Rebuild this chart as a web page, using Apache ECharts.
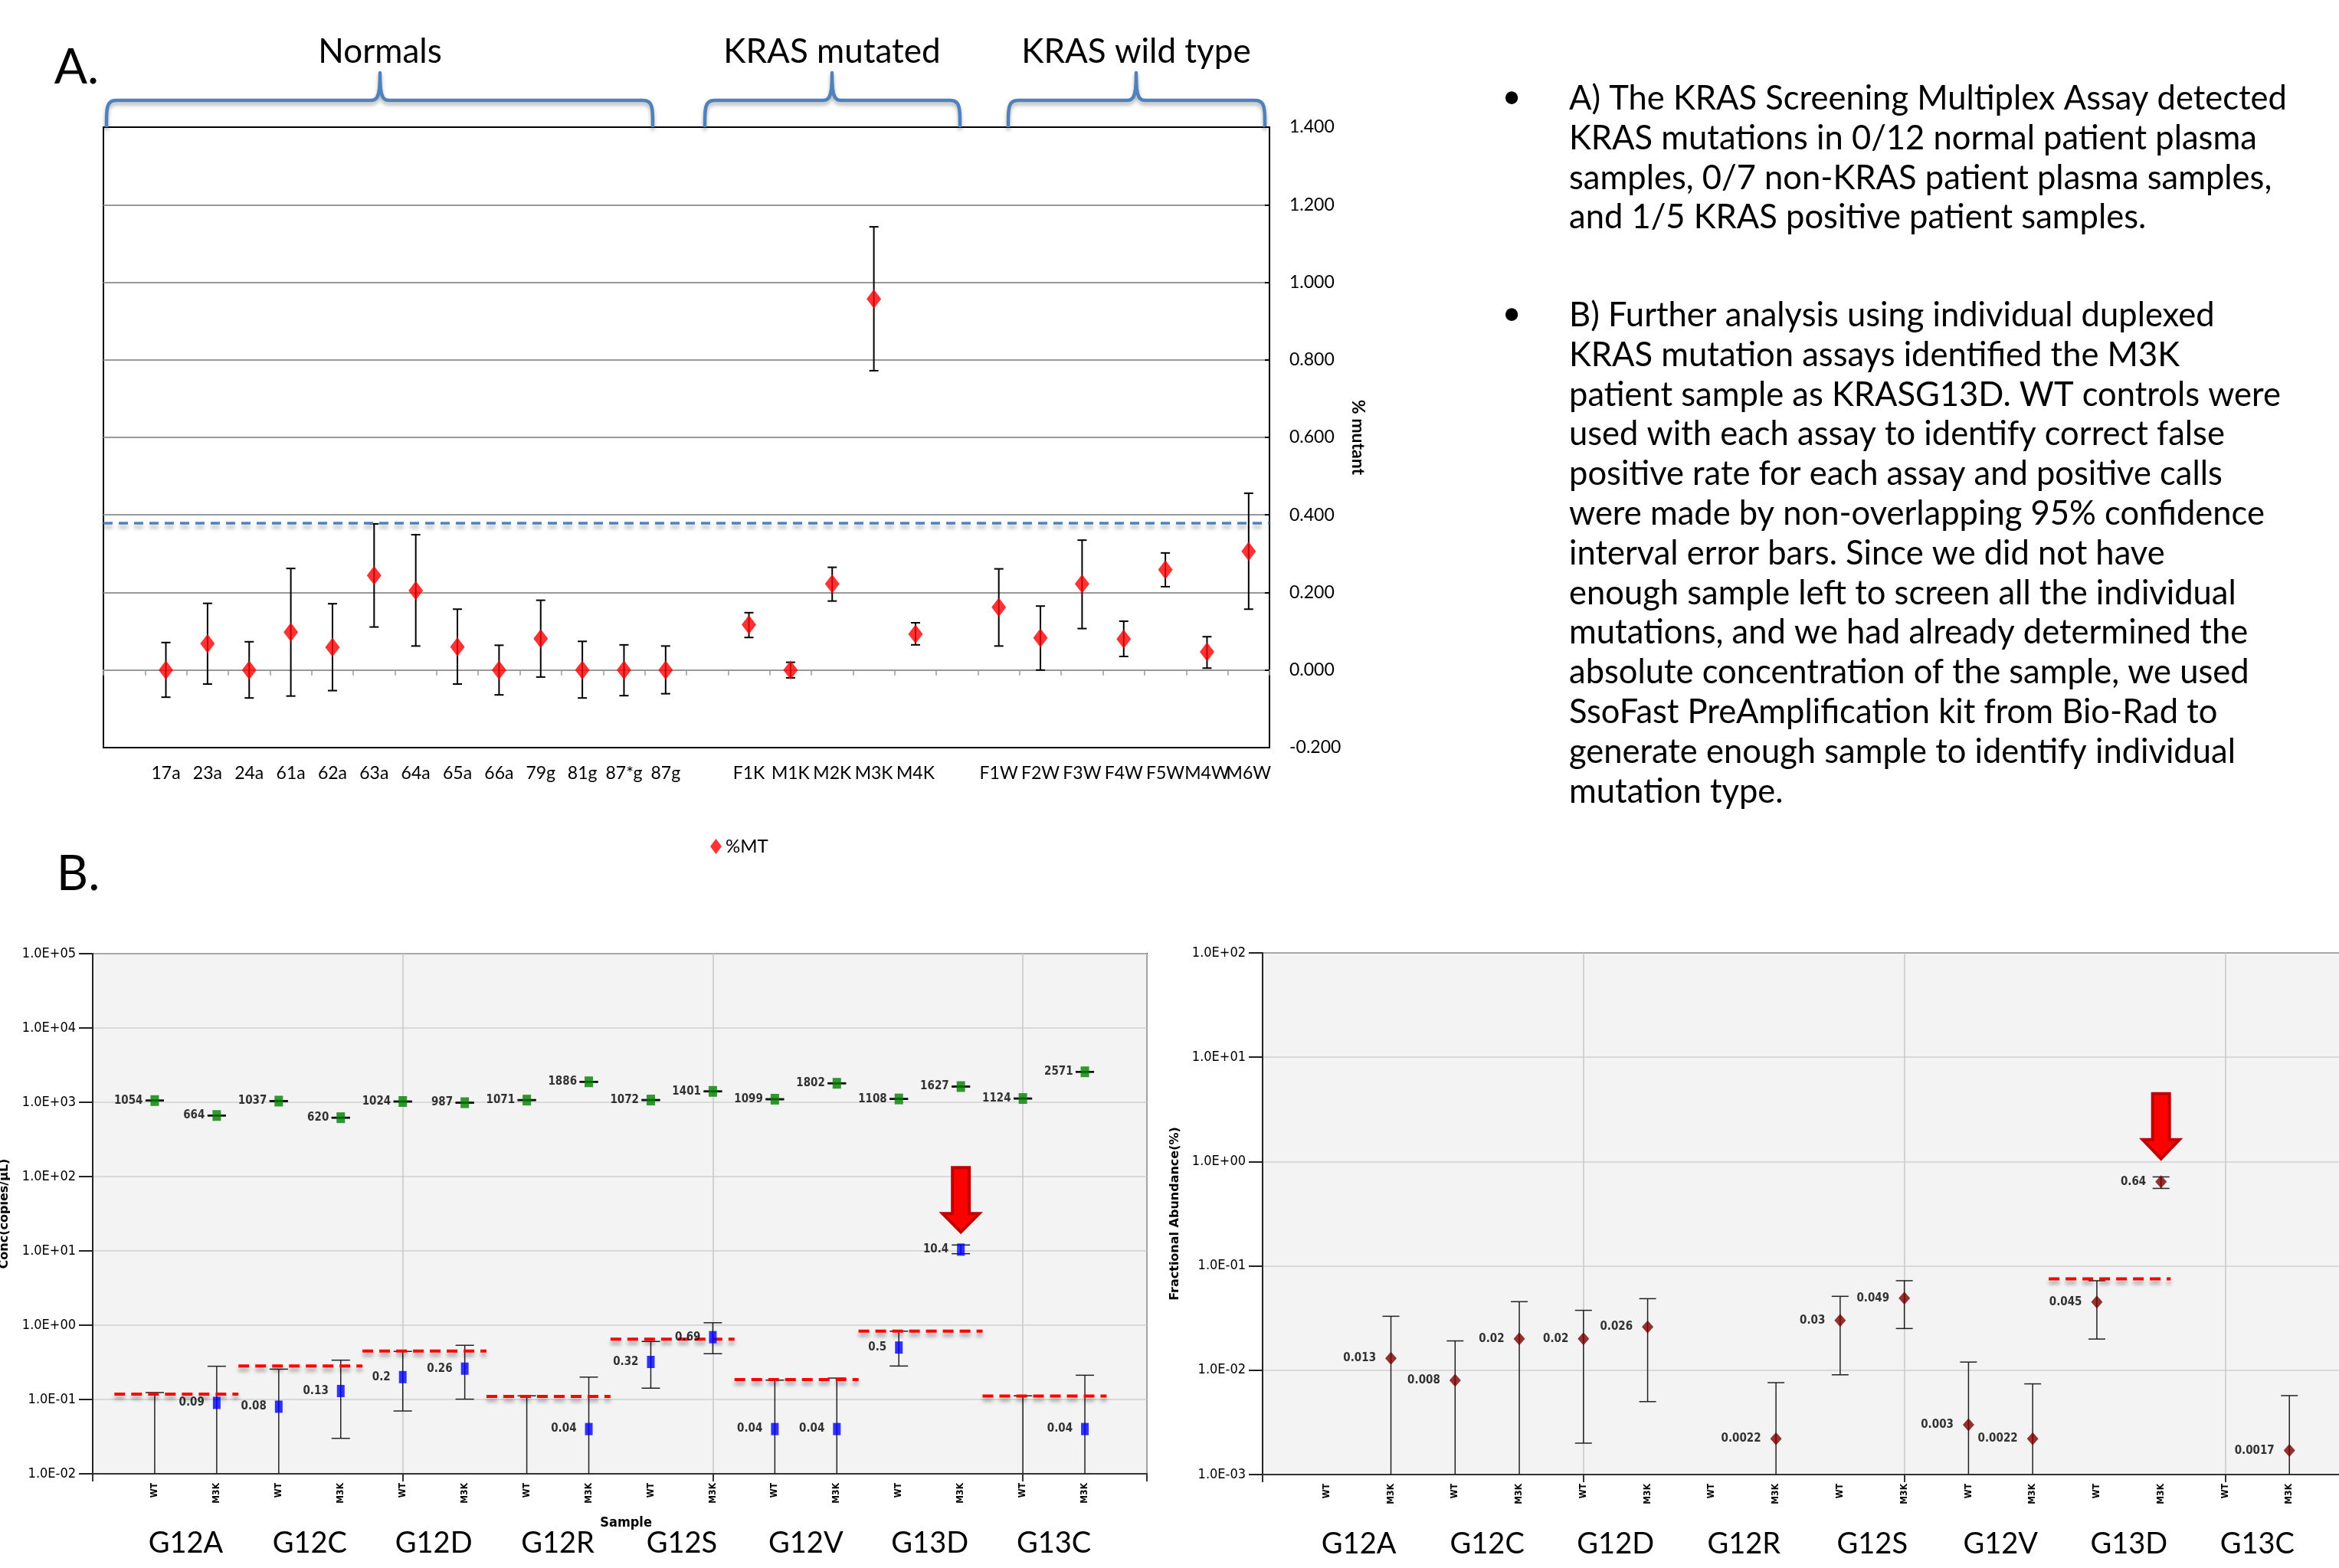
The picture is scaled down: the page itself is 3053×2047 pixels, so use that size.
<!DOCTYPE html>
<html><head><meta charset="utf-8">
<script src="https://cdn.jsdelivr.net/npm/echarts@6/dist/echarts.min.js"></script>
<style>html,body{margin:0;padding:0;background:#fff}#c{width:3053px;height:2047px}</style>
</head><body><div id="c"></div>
<script>
// ---------------- DATA: panel A ----------------
const aCategories = ['', '17a','23a','24a','61a','62a','63a','64a','65a','66a','79g','81g','87*g','87g','',
  'F1K','M1K','M2K','M3K','M4K','', 'F1W','F2W','F3W','F4W','F5W','M4W','M6W'];
const aValues = [null, 0, 0.068, 0, 0.098, 0.059, 0.244, 0.205, 0.060, 0, 0.081, 0, 0, 0, null,
  0.117, 0, 0.222, 0.957, 0.093, null, 0.162, 0.083, 0.222, 0.080, 0.259, 0.047, 0.306];
const aErrLow = [null, -0.070, -0.036, -0.072, -0.067, -0.053, 0.111, 0.062, -0.036, -0.064, -0.018, -0.072, -0.066, -0.061, null,
  0.084, -0.020, 0.178, 0.772, 0.065, null, 0.062, 0.000, 0.107, 0.035, 0.215, 0.005, 0.157];
const aErrHigh = [null, 0.071, 0.172, 0.073, 0.262, 0.171, 0.377, 0.349, 0.157, 0.064, 0.180, 0.074, 0.065, 0.062, null,
  0.148, 0.020, 0.265, 1.143, 0.122, null, 0.261, 0.165, 0.335, 0.126, 0.302, 0.086, 0.456];
const aThreshold = 0.379;
const aGroupNames = ['Normals', 'KRAS mutated', 'KRAS wild type'];
const aSeriesName = '%MT';
const aYName = '% mutant';

// ---------------- DATA: panel B ----------------
const bSampleLabels = ['WT','M3K','WT','M3K','WT','M3K','WT','M3K','WT','M3K','WT','M3K','WT','M3K','WT','M3K'];
const bGroups = ['G12A','G12C','G12D','G12R','G12S','G12V','G13D','G13C'];
const b1Total = [1054, 664, 1037, 620, 1024, 987, 1071, 1886, 1072, 1401, 1099, 1802, 1108, 1627, 1124, 2571];
const b1Mut = [null, 0.09, 0.08, 0.13, 0.2, 0.26, null, 0.04, 0.32, 0.69, 0.04, 0.04, 0.5, 10.4, null, 0.04];
const b1MutLo = [0, 0, 0, 0.030, 0.070, 0.101, 0, 0, 0.142, 0.413, 0, 0, 0.282, 9.16, 0, 0];
const b1MutHi = [0.124, 0.28, 0.256, 0.338, 0.444, 0.536, 0.112, 0.200, 0.604, 1.078, 0.182, 0.194, 0.830, 12.0, 0.112, 0.212];
const b1Threshold = [0.118, 0.282, 0.450, 0.110, 0.648, 0.185, 0.830, 0.111];
const b1Highlight = 13;       // sample index marked with the arrow
const b1YName = 'Conc(copies/µL)';
const b1XName = 'Sample';

const b2Frac = [null, 0.013, 0.008, 0.02, 0.02, 0.026, null, 0.0022, 0.03, 0.049, 0.003, 0.0022, 0.045, 0.64, null, 0.0017];
const b2Lo = [null, 0, 0, 0, 0.0020, 0.0050, null, 0, 0.00904, 0.0251, 0, 0, 0.0199, 0.553, null, 0];
const b2Hi = [null, 0.0329, 0.0191, 0.0454, 0.0375, 0.0485, null, 0.0076, 0.0511, 0.0721, 0.01197, 0.0074, 0.0721, 0.713, null, 0.00571];
const b2Threshold = [null, null, null, null, null, null, 0.0753, null];
const b2Highlight = 13;
const b2YName = 'Fractional Abundance(%)';

const paragraphA = [
  'A) The KRAS Screening Multiplex Assay detected',
  'KRAS mutations in 0/12 normal patient plasma',
  'samples, 0/7 non-KRAS patient plasma samples,',
  'and 1/5 KRAS positive patient samples.'
];
const paragraphB = [
  'B) Further analysis using individual duplexed',
  'KRAS mutation assays identified the M3K',
  'patient sample as KRASG13D. WT controls were',
  'used with each assay to identify correct false',
  'positive rate for each assay and positive calls',
  'were made by non-overlapping 95% confidence',
  'interval error bars. Since we did not have',
  'enough sample left to screen all the individual',
  'mutations, and we had already determined the',
  'absolute concentration of the sample, we used',
  'SsoFast PreAmplification kit from Bio-Rad to',
  'generate enough sample to identify individual',
  'mutation type.'
];

// ---------------- LAYOUT / STYLE ----------------
const HUM = "Lato, 'Open Sans', sans-serif";
const NARROW = "'Liberation Sans Narrow', 'DejaVu Sans Condensed', 'Liberation Sans', sans-serif";
const BOLDW = "'DejaVu Sans', Verdana, sans-serif";
const BRACE_COLOR = '#4F81BD';
const bracketLayout = [ {x0: 139, x1: 852, xm: 496}, {x0: 920, x1: 1253, xm: 1086}, {x0: 1316, x1: 1651, xm: 1483} ];

function fitFont(lines, targetW, family, base) {
  const ctx = document.createElement('canvas').getContext('2d');
  ctx.font = base + 'px ' + family;
  let w = 0; lines.forEach(l => { w = Math.max(w, ctx.measureText(l).width); });
  return base * targetW / w;
}

function expLabel(v) {
  const e = Math.round(Math.log10(v));
  return '1.0E' + (e < 0 ? '-' : '+') + String(Math.abs(e)).padStart(2, '0');
}

function bez(p0, p1, p2, p3, n) {
  const out = [];
  for (let i = 1; i <= n; i++) {
    const t = i / n, u = 1 - t;
    out.push([u*u*u*p0[0] + 3*u*u*t*p1[0] + 3*u*t*t*p2[0] + t*t*t*p3[0],
              u*u*u*p0[1] + 3*u*u*t*p1[1] + 3*u*t*t*p2[1] + t*t*t*p3[1]]);
  }
  return out;
}
function bracePoints(b) {
  const yb = 166, yh = 131, yp = 95;
  let pts = [[b.x0, yb]];
  pts = pts.concat(bez([b.x0, yb], [b.x0, yh + 8], [b.x0, yh], [b.x0 + 14, yh], 10));
  pts.push([b.xm - 12, yh]);
  pts = pts.concat(bez([b.xm - 12, yh], [b.xm - 3, yh], [b.xm, yh - 6], [b.xm, yp], 10));
  pts = pts.concat(bez([b.xm, yp], [b.xm, yh - 6], [b.xm + 3, yh], [b.xm + 12, yh], 10));
  pts.push([b.x1 - 14, yh]);
  pts = pts.concat(bez([b.x1 - 14, yh], [b.x1, yh], [b.x1, yh + 8], [b.x1, yb], 10));
  return pts;
}

function errorBarRender(capW, color, lw, yMin) {
  return function (params, api) {
    const x = api.value(0), lo = api.value(1), hi = api.value(2);
    const hasLo = lo > yMin;
    const pHi = api.coord([x, hi]);
    const pLo = api.coord([x, hasLo ? lo : yMin]);
    const st = {stroke: color, lineWidth: lw};
    const ch = [
      {type: 'line', shape: {x1: pHi[0], y1: pHi[1], x2: pLo[0], y2: pLo[1]}, style: st},
      {type: 'line', shape: {x1: pHi[0] - capW / 2, y1: pHi[1], x2: pHi[0] + capW / 2, y2: pHi[1]}, style: st}
    ];
    if (hasLo) ch.push({type: 'line', shape: {x1: pLo[0] - capW / 2, y1: pLo[1], x2: pLo[0] + capW / 2, y2: pLo[1]}, style: st});
    return {type: 'group', children: ch};
  };
}
function thresholdRender(params, api) {
  const y = api.value(2);
  const p1 = api.coord([api.value(0), y]), p2 = api.coord([api.value(1), y]);
  return {type: 'line', shape: {x1: p1[0], y1: p1[1], x2: p2[0], y2: p2[1]},
    style: {stroke: '#FF0000', lineWidth: 4, lineDash: [14, 8], shadowBlur: 5, shadowColor: 'rgba(0,0,0,0.35)', shadowOffsetY: 5}};
}
function arrowRender(tipGap, len, sh, hh, hl) {
  return function (params, api) {
    const p = api.coord([api.value(0), api.value(1)]);
    const x = p[0], tip = p[1] - tipGap, top = tip - len, hb = tip - hl;
    return {type: 'polygon', shape: {points: [[x - sh, top], [x + sh, top], [x + sh, hb], [x + hh, hb], [x, tip], [x - hh, hb], [x - sh, hb]]},
      style: {fill: '#FF0000', stroke: '#C00000', lineWidth: 4}};
  };
}
function groupLabelRender(yMin, dy) {
  return function (params, api) {
    const p = api.coord([api.value(0), yMin]);
    return {type: 'text', x: p[0], y: p[1] + dy,
      style: {text: bGroups[params.dataIndex], fill: '#000', font: '38px ' + HUM, align: 'center', verticalAlign: 'middle'}};
  };
}

// derived datasets
const aScatter = aValues.map(v => v === null ? '-' : v);
const aErr = [];
aValues.forEach((v, i) => { if (v !== null) aErr.push([i, aErrLow[i], aErrHigh[i]]); });
const b1TotalData = b1Total.map((v, i) => [i + 1, v]);
const b1TotalErr = b1Total.map((v, i) => [i + 1, v, v]);
const b1MutData = b1Mut.map((v, i) => v === null ? [i + 1, '-'] : [i + 1, v]);
const b1MutErr = b1MutHi.map((h, i) => [i + 1, b1MutLo[i], h]);
const b1Thr = b1Threshold.map((t, k) => [2 * k + 1 - 0.65, 2 * k + 2 + 0.35, t]);
const b2Data = b2Frac.map((v, i) => v === null ? [i + 1, '-'] : [i + 1, v]);
const b2Err = [];
b2Hi.forEach((h, i) => { if (h !== null) b2Err.push([i + 1, b2Lo[i], h]); });
const b2Thr = [];
b2Threshold.forEach((t, k) => { if (t !== null) b2Thr.push([2 * k + 1 - 0.75, 2 * k + 2 + 0.15, t]); });
const groupCenters = bGroups.map((g, k) => [2 * k + 1.5, 1]);

// text block
const pFont = fitFont(paragraphA.concat(paragraphB), 937, HUM, 44);
const graphics = [];
graphics.push({type: 'text', x: 100, y: 88, style: {text: 'A.', font: '64px ' + HUM, fill: '#000', align: 'center', verticalAlign: 'middle'}});
graphics.push({type: 'text', x: 102, y: 1141, style: {text: 'B.', font: '64px ' + HUM, fill: '#000', align: 'center', verticalAlign: 'middle'}});
aGroupNames.forEach((n, i) => {
  const b = bracketLayout[i];
  graphics.push({type: 'text', x: b.xm, y: 68, style: {text: n, font: '44px ' + HUM, fill: '#000', align: 'center', verticalAlign: 'middle'}});
  graphics.push({type: 'polyline', shape: {points: bracePoints(b)}, style: {fill: null, stroke: BRACE_COLOR, lineWidth: 4.5,
    lineJoin: 'round', shadowBlur: 5, shadowColor: 'rgba(0,0,0,0.3)', shadowOffsetY: 4}});
});
const lh = 51.8;
paragraphA.forEach((l, i) => graphics.push({type: 'text', x: 2048, y: 129 + i * lh,
  style: {text: l, font: pFont + 'px ' + HUM, fill: '#000', align: 'left', verticalAlign: 'middle'}}));
paragraphB.forEach((l, i) => graphics.push({type: 'text', x: 2048, y: 412 + i * lh,
  style: {text: l, font: pFont + 'px ' + HUM, fill: '#000', align: 'left', verticalAlign: 'middle'}}));
[129, 412].forEach(y => graphics.push({type: 'text', x: 1973, y: y - 2,
  style: {text: '•', font: pFont + 'px ' + HUM, fill: '#000', align: 'center', verticalAlign: 'middle'}}));

const bValueAxisCommon = {
  type: 'value', position: 'bottom', min: 0, max: 17, interval: 5,
  axisLine: {show: true, onZero: false, lineStyle: {color: '#333', width: 2}},
  axisTick: {show: true, length: 10, lineStyle: {color: '#333', width: 2}},
  axisLabel: {show: false},
  splitLine: {show: true, lineStyle: {color: '#c8c8c8', width: 1.5}}
};
const bLabelAxisCommon = {
  type: 'value', position: 'bottom', min: 0, max: 17, interval: 1,
  axisLine: {show: false, onZero: false}, axisTick: {show: false}, splitLine: {show: false},
  axisLabel: {show: true, rotate: 90, margin: 12, fontSize: 12, fontWeight: 'bold', fontFamily: NARROW, color: '#000',
    formatter: v => bSampleLabels[v - 1] || ''}
};
function bLogAxis(grid, min, max, name, gap) {
  return {
    gridIndex: grid, type: 'log', logBase: 10, min: min, max: max,
    name: name, nameLocation: 'middle', nameRotate: 90, nameGap: gap,
    nameTextStyle: {fontSize: 16, fontWeight: 'bold', fontFamily: BOLDW, color: '#000'},
    axisLine: {show: true, lineStyle: {color: '#222', width: 2}},
    axisTick: {show: true, length: 18, lineStyle: {color: '#222', width: 2}},
    axisLabel: {show: true, margin: 22, fontSize: 18, fontFamily: NARROW, color: '#000', formatter: expLabel},
    splitLine: {show: true, lineStyle: {color: '#d0d0d0', width: 1.5}},
    minorTick: {show: false}
  };
}

const option = {
  animation: false,
  backgroundColor: '#ffffff',
  graphic: graphics,
  legend: {data: [aSeriesName], left: 922, top: 1088, itemWidth: 15, itemHeight: 20,
    textStyle: {fontSize: 24, fontFamily: HUM, color: '#000'}},
  grid: [
    {left: 135, top: 166, width: 1522, height: 810, show: true, borderColor: '#000', borderWidth: 2, backgroundColor: '#fff', outerBoundsMode: 'none', containLabel: false},
    {left: 121, top: 1245, width: 1376, height: 679, show: true, borderColor: '#333', borderWidth: 2, backgroundColor: '#F3F3F3', outerBoundsMode: 'none', containLabel: false},
    {left: 1648, top: 1244, width: 1424, height: 681, show: true, borderColor: '#333', borderWidth: 2, backgroundColor: '#F3F3F3', outerBoundsMode: 'none', containLabel: false}
  ],
  xAxis: [
    {gridIndex: 0, type: 'category', data: aCategories, position: 'bottom', boundaryGap: true,
      axisLine: {show: true, onZero: true, lineStyle: {color: '#999', width: 2}},
      axisTick: {show: true, length: 7, interval: 0, lineStyle: {color: '#999', width: 1.5}},
      axisLabel: {show: false}, splitLine: {show: false}},
    {gridIndex: 0, type: 'category', data: aCategories, position: 'bottom', boundaryGap: true,
      axisLine: {show: true, onZero: false, lineStyle: {color: '#000', width: 2}},
      axisTick: {show: false},
      axisLabel: {show: true, interval: 0, margin: 22, fontSize: 23, fontFamily: HUM, color: '#000'}, splitLine: {show: false}},
    Object.assign({gridIndex: 1}, bValueAxisCommon),
    Object.assign({gridIndex: 1}, bLabelAxisCommon),
    Object.assign({gridIndex: 2}, bValueAxisCommon),
    Object.assign({gridIndex: 2}, bLabelAxisCommon)
  ],
  yAxis: [
    {gridIndex: 0, type: 'value', position: 'right', min: -0.2, max: 1.4, interval: 0.2,
      name: aYName, nameLocation: 'middle', nameRotate: -90, nameGap: 104,
      nameTextStyle: {fontSize: 23, fontWeight: 'bold', fontFamily: HUM, color: '#000'},
      axisLine: {show: true, lineStyle: {color: '#000', width: 2}},
      axisTick: {show: true, inside: true, length: 6, lineStyle: {color: '#000', width: 2}},
      axisLabel: {show: true, margin: 26, fontSize: 23, fontFamily: HUM, color: '#000', formatter: v => v.toFixed(3)},
      splitLine: {show: true, showMinLine: false, showMaxLine: false, lineStyle: {color: '#999', width: 2}}},
    bLogAxis(1, 0.01, 100000, b1YName, 107),
    bLogAxis(2, 0.001, 100, b2YName, 106)
  ],
  series: [
    // ----- panel A -----
    {type: 'custom', xAxisIndex: 1, yAxisIndex: 0, data: aErr, encode: {x: 0, y: [1, 2]}, z: 3, silent: true,
      renderItem: errorBarRender(12, '#000', 2, -1e9)},
    {name: aSeriesName, type: 'scatter', xAxisIndex: 1, yAxisIndex: 0, data: aScatter, symbol: 'diamond', symbolSize: [19, 25],
      itemStyle: {color: '#FF0000'}, z: 4,
      markLine: {silent: true, symbol: ['none', 'none'], label: {show: false},
        lineStyle: {color: '#4F81BD', width: 3.5, type: [12, 8], shadowBlur: 5, shadowColor: 'rgba(0,0,0,0.3)', shadowOffsetY: 5},
        data: [{yAxis: aThreshold}]}},
    // ----- panel B1 -----
    {type: 'custom', xAxisIndex: 2, yAxisIndex: 1, data: b1Thr, encode: {x: [0, 1], y: 2}, z: 3, silent: true, renderItem: thresholdRender},
    {type: 'custom', xAxisIndex: 2, yAxisIndex: 1, data: b1MutErr, encode: {x: 0, y: 2}, z: 2, silent: true,
      renderItem: errorBarRender(24, '#222', 1.5, 0.01)},
    {type: 'custom', xAxisIndex: 2, yAxisIndex: 1, data: b1TotalErr, encode: {x: 0, y: 2}, z: 2, silent: true,
      renderItem: errorBarRender(24, '#111', 2.5, 0.01)},
    {type: 'scatter', xAxisIndex: 2, yAxisIndex: 1, data: b1TotalData, symbol: 'rect', symbolSize: [11, 14],
      itemStyle: {color: '#008000'}, z: 4,
      label: {show: true, position: 'left', distance: 10, fontSize: 15, fontWeight: 'bold', fontFamily: NARROW, color: '#000',
        formatter: p => String(p.value[1])}},
    {type: 'scatter', xAxisIndex: 2, yAxisIndex: 1, data: b1MutData, symbol: 'rect', symbolSize: [10, 16],
      itemStyle: {color: '#0000FF'}, z: 4,
      label: {show: true, position: 'left', distance: 11, fontSize: 15, fontWeight: 'bold', fontFamily: NARROW, color: '#000',
        formatter: p => String(p.value[1])}},
    {type: 'custom', xAxisIndex: 2, yAxisIndex: 1, data: [[b1Highlight + 1, b1Mut[b1Highlight]]], encode: {x: 0, y: 1}, z: 5, silent: true,
      renderItem: arrowRender(23, 84, 11, 24, 24)},
    {type: 'custom', xAxisIndex: 2, yAxisIndex: 1, data: groupCenters, encode: {x: 0, y: 1}, z: 5, silent: true, clip: false,
      renderItem: groupLabelRender(0.01, 91)},
    // ----- panel B2 -----
    {type: 'custom', xAxisIndex: 4, yAxisIndex: 2, data: b2Thr, encode: {x: [0, 1], y: 2}, z: 3, silent: true, renderItem: thresholdRender},
    {type: 'custom', xAxisIndex: 4, yAxisIndex: 2, data: b2Err, encode: {x: 0, y: 2}, z: 2, silent: true,
      renderItem: errorBarRender(22, '#222', 1.5, 0.001)},
    {type: 'scatter', xAxisIndex: 4, yAxisIndex: 2, data: b2Data, symbol: 'diamond', symbolSize: [15, 17],
      itemStyle: {color: '#7A0000'}, z: 4,
      label: {show: true, position: 'left', distance: 12, fontSize: 15, fontWeight: 'bold', fontFamily: NARROW, color: '#000',
        formatter: p => String(p.value[1])}},
    {type: 'custom', xAxisIndex: 4, yAxisIndex: 2, data: [[b2Highlight + 1, b2Frac[b2Highlight]]], encode: {x: 0, y: 1}, z: 5, silent: true,
      renderItem: arrowRender(30, 85, 11, 24, 25)},
    {type: 'custom', xAxisIndex: 4, yAxisIndex: 2, data: groupCenters, encode: {x: 0, y: 1}, z: 5, silent: true, clip: false,
      renderItem: groupLabelRender(0.001, 91)}
  ]
};

const chart = echarts.init(document.getElementById('c'), null, {renderer: 'canvas', width: 3053, height: 2047});
chart.setOption(option);

// "Sample" axis caption for panel B1, placed under the B1 axis via its own scale
const sampleX = chart.convertToPixel({xAxisIndex: 2}, 8.6);
const sampleY = chart.convertToPixel({yAxisIndex: 1}, 0.01);
chart.setOption({graphic: graphics.concat([{type: 'text', x: sampleX, y: sampleY + 64,
  style: {text: b1XName, font: 'bold 18px ' + NARROW, fill: '#000', align: 'center', verticalAlign: 'middle'}}])});
</script>
</body></html>
